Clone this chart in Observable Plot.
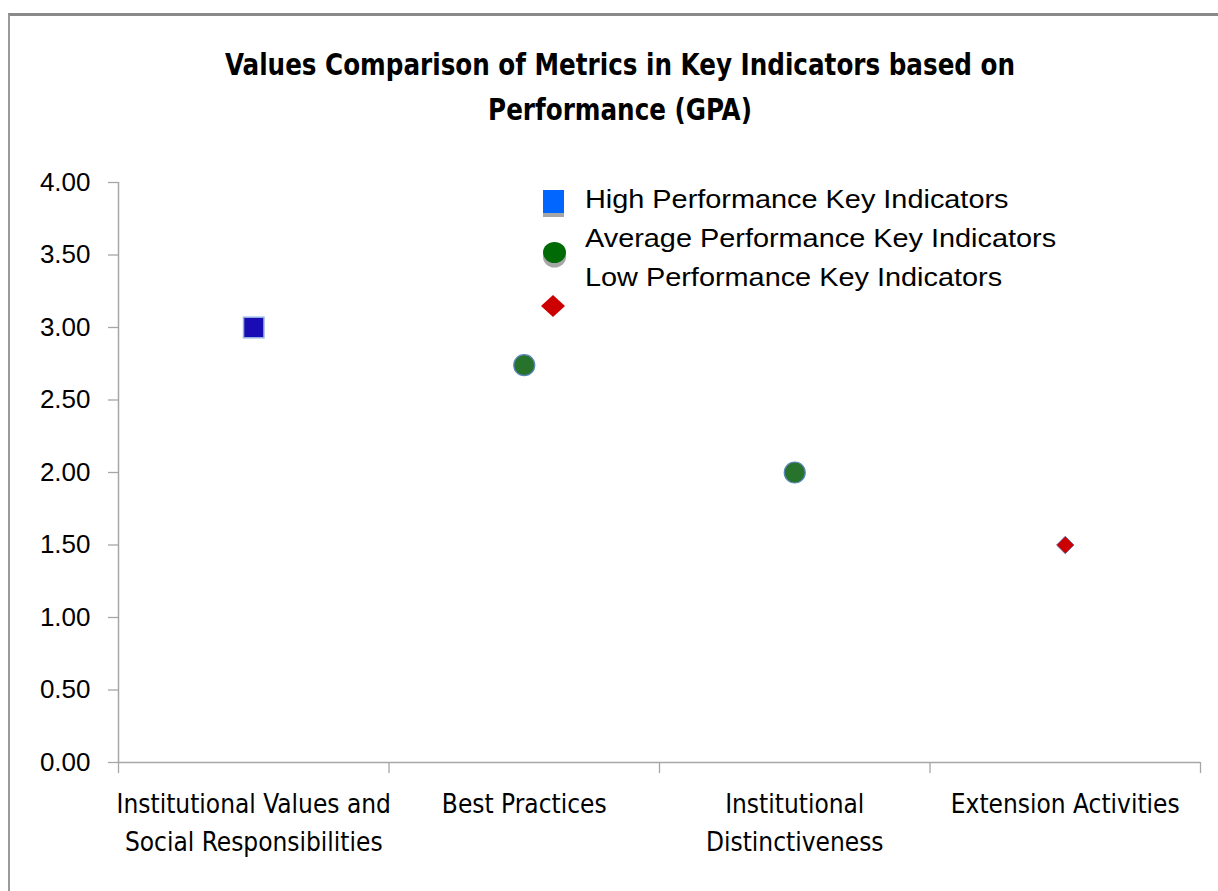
<!DOCTYPE html>
<html>
<head>
<meta charset="utf-8">
<script src="https://cdn.jsdelivr.net/npm/d3@7"></script>
<script src="https://cdn.jsdelivr.net/npm/@observablehq/plot@0.6"></script>
<style>
  html, body { margin: 0; padding: 0; background: #fff; overflow: hidden; }
  #wrap { position: relative; width: 1218px; height: 891px; }
  #frame { position: absolute; left: 8px; top: 13px; right: 0; bottom: 0;
           border-top: 3px solid #8a8a8a; border-left: 2px solid #9a9a9a; }
  #title { position: absolute; top: 42px; left: 20px; width: 1200px; text-align: center;
           font-family: "DejaVu Sans Condensed", "Liberation Sans Narrow", sans-serif;
           font-weight: bold; font-size: 30px; line-height: 45px; color: #000;
           transform: scaleX(0.913); transform-origin: 600px 0; }
  #chart { position: absolute; left: 0; top: 150px; }
  #legend { position: absolute; left: 0; top: 0; width: 1218px; height: 891px; pointer-events: none; }
  .ltxt { position: absolute; left: 585px; font-family: "Liberation Sans", Arial, sans-serif;
          font-size: 26px; line-height: 30px; color: #000; white-space: nowrap;
          transform: scaleX(1.11); transform-origin: 0 0; }
</style>
</head>
<body>
<div id="wrap">
  <div id="frame"></div>
  <div id="title">Values Comparison of Metrics in Key Indicators based on<br>Performance (GPA)</div>
  <div id="chart"></div>
  <div id="legend"></div>
</div>
<script>
// ---- data ----
const categories = [
  "Institutional Values and Social Responsibilities",
  "Best Practices",
  "Institutional Distinctiveness",
  "Extension Activities"
];
const tickLabels = [
  "Institutional Values and\nSocial Responsibilities",
  "Best Practices",
  "Institutional\nDistinctiveness",
  "Extension Activities"
];
const gpaValues = [3.00, 2.74, 2.00, 1.50];
const performanceLevel = ["High", "Average", "Average", "Low"];
const seriesNames = [
  "High Performance Key Indicators",
  "Average Performance Key Indicators",
  "Low Performance Key Indicators"
];
const seriesKeys = ["High", "Average", "Low"];
const yTicks = [0, 0.5, 1, 1.5, 2, 2.5, 3, 3.5, 4];

const rows = categories.map((c, i) => ({
  category: c, pos: i + 0.5, value: gpaValues[i], level: performanceLevel[i]
}));

const styleFor = {
  High: {symbol: "square", r: 11.5, fill: "#1a0cb5", stroke: "#8fb0e0", strokeWidth: 1.5},
  Average: {symbol: "circle", r: 10.5, fill: "#27732b", stroke: "#5a86b8", strokeWidth: 1.2},
  Low: {symbol: "diamond2", r: 7.8, fill: "#cc0000", stroke: "#55559a", strokeWidth: 0.8}
};

const gray = "#a6a6a6";
const boundaryTicks = d3.range(categories.length + 1);
const centerTicks = categories.map((c, i) => i + 0.5);

const chart = Plot.plot({
  width: 1218,
  height: 741,
  marginTop: 32,
  marginBottom: 129,
  marginLeft: 118,
  marginRight: 18,
  x: {domain: [0, categories.length]},
  y: {domain: [0, 4]},
  style: {
    fontFamily: "'DejaVu Sans Condensed', sans-serif",
    fontSize: "26px",
    color: "#000",
    background: "transparent",
    overflow: "visible"
  },
  marks: [
    Plot.axisY({ticks: yTicks, tickFormat: d => d.toFixed(2), tickSize: 10, tickPadding: 18,
                stroke: gray, strokeWidth: 1.3, label: null, fontSize: 26,
                fontFamily: "'Liberation Sans', Arial, sans-serif"}),
    Plot.axisX({ticks: boundaryTicks, tickFormat: () => "", tickSize: 11, stroke: gray,
                strokeWidth: 1.3, label: null}),
    Plot.axisX({ticks: centerTicks, tickFormat: d => tickLabels[Math.round(d - 0.5)],
                tickSize: 0, tickPadding: 23, label: null, lineHeight: 1.47, fontSize: 26}),
    Plot.ruleX([0], {stroke: gray, strokeWidth: 1.5}),
    Plot.ruleY([0], {stroke: gray, strokeWidth: 1.5}),
    ...seriesKeys.map(k => Plot.dot(rows.filter(d => d.level === k), {
      x: "pos", y: "value", ...styleFor[k]
    }))
  ]
});
document.getElementById("chart").appendChild(chart);

// ---- legend (markers offset from text as in the original) ----
const legend = document.getElementById("legend");
const textTops = [184, 223, 262];
seriesNames.forEach((name, i) => {
  const t = document.createElement("div");
  t.className = "ltxt";
  t.style.top = textTops[i] + "px";
  t.textContent = name;
  legend.appendChild(t);
});
const ns = "http://www.w3.org/2000/svg";
const svg = document.createElementNS(ns, "svg");
svg.setAttribute("width", 1218); svg.setAttribute("height", 891);
svg.style.position = "absolute"; svg.style.left = "0"; svg.style.top = "0";
svg.innerHTML = `
  <rect x="543" y="194" width="21" height="23" fill="#a6a6a6"/>
  <rect x="543" y="190" width="21" height="23" fill="#0066ff"/>
  <ellipse cx="554.5" cy="257" rx="11.5" ry="10.5" fill="#a6a6a6"/>
  <ellipse cx="554.5" cy="252.5" rx="11.5" ry="10.5" fill="#006a06"/>
  <path d="M553 295 L565 306 L553 317 L541 306 Z" fill="#cc0000"/>
`;
legend.appendChild(svg);
</script>
</body>
</html>
